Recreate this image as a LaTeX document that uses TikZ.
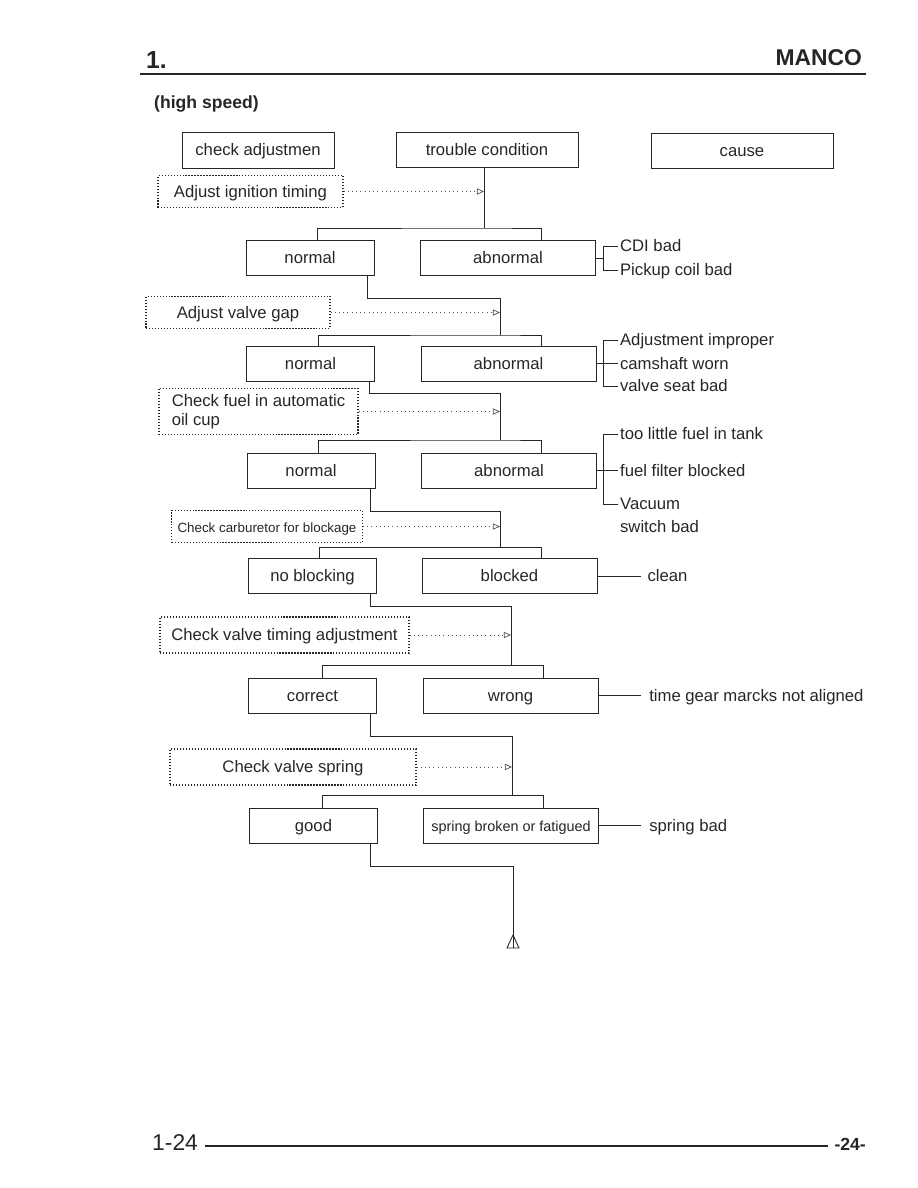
\documentclass[tikz,border=0pt]{standalone}
\usepackage{fontspec}
\setmainfont{Liberation Sans}
\usetikzlibrary{arrows.meta,positioning}
\definecolor{inkgray}{RGB}{38,38,38}

\begin{document}
\begin{tikzpicture}[
  x=0.02cm, y=-0.02cm,
  every node/.style={text=inkgray},
  tight/.style={text height=1.7ex, text depth=0.5ex},
  hdrbox/.style={draw=inkgray, line width=0.5pt, minimum width=3.64cm, minimum height=0.7cm, tight,
    font=\fontsize{9.5}{11}\selectfont},
  okbox/.style={draw=inkgray, line width=0.5pt, minimum width=2.56cm, minimum height=0.7cm, tight,
    font=\fontsize{9.5}{11}\selectfont},
  badbox/.style={okbox, minimum width=3.5cm},
  testbox/.style={draw=inkgray, densely dotted, line width=0.7pt, minimum height=0.5cm,
    font=\fontsize{9.5}{11}\selectfont},
  probe/.style={draw=inkgray!80, dotted, line width=0.4pt, -{Triangle[open,length=4pt,width=3.5pt]}},
  wire/.style={draw=inkgray, line width=0.5pt},
  why/.style={anchor=west, inner sep=1pt, tight, font=\fontsize{9.5}{11}\selectfont},
  fix/.style={why, inner xsep=4.5pt}
]
\useasboundingbox (0,0) rectangle (918,1188);

% page head
\node[anchor=west, font=\bfseries\fontsize{14}{14}\selectfont] (chap) at (140,60) {1.};
\node[anchor=east, font=\bfseries\fontsize{13}{13}\selectfont] (brand) at (868,58) {MANCO};
\draw[inkgray, line width=1.4pt] (140,74) -- (866,74);
\node[anchor=west, font=\bfseries\fontsize{10}{12}\selectfont] (mode) at (148,104) {(high speed)};

% column heads
\node[hdrbox, minimum width=3.04cm, minimum height=0.72cm] (chk) at (258,150) {check adjustmen};
\node[hdrbox] (trb) at (487,149.5) {trouble condition};
\node[hdrbox] (cause) at (742,150.5) {cause};

% checks
\node[testbox, tight, minimum width=3.7cm] (t1) at (250.5,191.5) {Adjust ignition timing};
\node[testbox, tight, minimum width=3.68cm] (t2) at (238,312.5) {Adjust valve gap};
\node[testbox, minimum width=3.98cm, minimum height=0.74cm, align=left] (t3) at (258.5,411.5)
  {Check fuel in automatic\\oil cup};
\node[testbox, tight, minimum width=3.64cm, font=\fontsize{7.6}{9}\selectfont] (t4) at (267,526.5)
  {Check carburetor for blockage};
\node[testbox, tight, minimum width=4.98cm, minimum height=0.72cm] (t5) at (284.5,635) {Check valve timing adjustment};
\node[testbox, tight, minimum width=4.92cm, minimum height=0.72cm] (t6) at (293,767) {Check valve spring};

% results
\node[okbox] (n1) at (310,258) {normal};
\node[badbox] (a1) at (508,258) {abnormal};
\node[okbox] (n2) at (310.5,363.5) {normal};
\node[badbox] (a2) at (508.5,363.5) {abnormal};
\node[okbox] (n3) at (311,470.5) {normal};
\node[badbox] (a3) at (509,470.5) {abnormal};
\node[okbox] (n4) at (312.5,576) {no blocking};
\node[badbox] (a4) at (509.5,576) {blocked};
\node[okbox] (n5) at (312.5,695.5) {correct};
\node[badbox] (a5) at (510.5,695.5) {wrong};
\node[okbox] (n6) at (313.5,825.5) {good};
\node[badbox, font=\fontsize{8.2}{10}\selectfont] (a6) at (511,825.5) {spring broken or fatigued};

% causes
\node[why] (c1a) at (618,246) {CDI bad};
\node[why] (c1b) at (618,270) {Pickup coil bad};
\node[why] (c2a) at (618,340) {Adjustment improper};
\node[why] (c2b) at (618,363.5) {camshaft worn};
\node[why] (c2c) at (618,386) {valve seat bad};
\node[why] (c3a) at (618,434) {too little fuel in tank};
\node[why] (c3b) at (618,470.5) {fuel filter blocked};
\node[why] (c3c) at (618,504) {Vacuum};
\node[why] (c3d) at (618,527) {switch bad};
\node[fix, inner xsep=3.5pt] (c4) at (641,576) {clean};
\node[fix] (c5) at (641,695.5) {time gear marcks not aligned};
\node[fix] (c6) at (641,825.5) {spring bad};

% main line
\draw[wire] (484,0 |- trb.south) -- (484,228) coordinate (j1);
\draw[wire] (317,0 |- n1.north) |- (j1) -| (541,0 |- a1.north);
\draw[wire] (367,0 |- n1.south) |- (500,298) -- (500,335) coordinate (j2);
\draw[wire] (318,0 |- n2.north) |- (j2) -| (541,0 |- a2.north);
\draw[wire] (369,0 |- n2.south) |- (500,393) -- (500,440) coordinate (j3);
\draw[wire] (318,0 |- n3.north) |- (j3) -| (541,0 |- a3.north);
\draw[wire] (370,0 |- n3.south) |- (500,511) -- (500,547) coordinate (j4);
\draw[wire] (319,0 |- n4.north) |- (j4) -| (541,0 |- a4.north);
\draw[wire] (370,0 |- n4.south) |- (511,606) -- (511,665) coordinate (j5);
\draw[wire] (322,0 |- n5.north) |- (j5) -| (543,0 |- a5.north);
\draw[wire] (370,0 |- n5.south) |- (512,736) -- (512,795) coordinate (j6);
\draw[wire] (322,0 |- n6.north) |- (j6) -| (543,0 |- a6.north);
\coordinate (tail) at (513,948);
\draw[wire] (370,0 |- n6.south) |- (513,866) -- (tail);
\draw[wire] (tail) -- ++(-6,0) -- ++(6,-13) -- ++(6,13) -- cycle;

% checks into main line
\draw[probe] (t1.east) -- (t1.east -| j1);
\draw[probe] (t2.east) -- (t2.east -| j2);
\draw[probe] (t3.east) -- (t3.east -| j3);
\draw[probe] (t4.east) -- (t4.east -| j4);
\draw[probe] (t5.east) -- (t5.east -| j5);
\draw[probe] (t6.east) -- (t6.east -| j6);

% cause brackets
\draw[wire] (a1.east) -- (603,0 |- a1.east);
\draw[wire] (c1a.west) -| (603,0 |- c1b.west) -- (c1b.west);
\draw[wire] (a2.east) -- (c2b.west);
\draw[wire] (c2a.west) -| (603,0 |- c2c.west) -- (c2c.west);
\draw[wire] (a3.east) -- (c3b.west);
\draw[wire] (c3a.west) -| (603,0 |- c3c.west) -- (c3c.west);
\draw[wire] (a4.east) -- (c4.west);
\draw[wire] (a5.east) -- (c5.west);
\draw[wire] (a6.east) -- (c6.west);

% page foot
\node[anchor=west, font=\fontsize{13}{13}\selectfont] (pgl) at (146,1143) {1-24};
\draw[inkgray, line width=1.2pt] (205,1146) -- (828,1146);
\node[anchor=east, font=\bfseries\fontsize{10}{10}\selectfont] (pgr) at (872,1144) {-24-};
\end{tikzpicture}
\end{document}
